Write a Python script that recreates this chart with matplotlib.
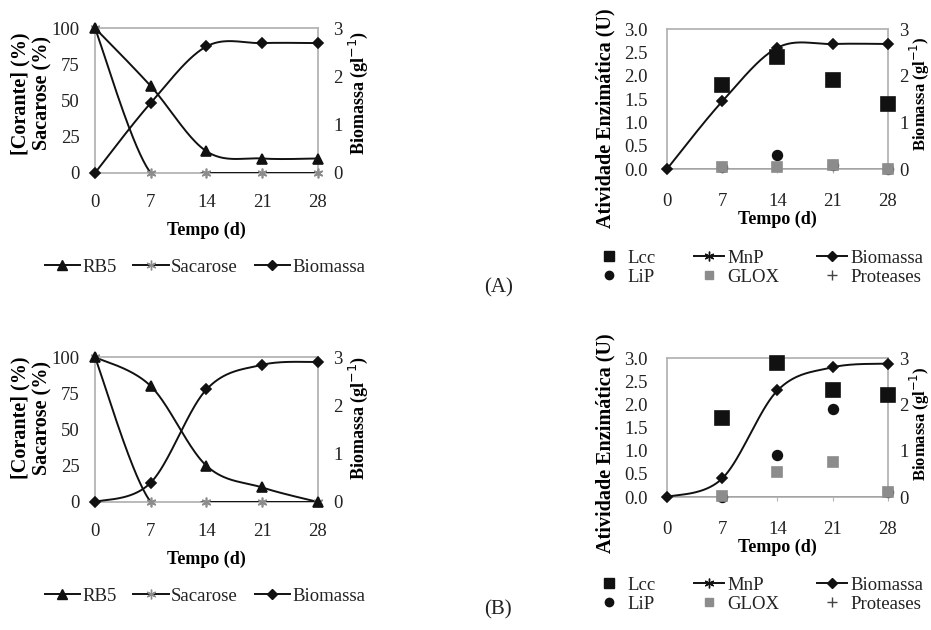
import numpy as np
import matplotlib
matplotlib.use("Agg")
import matplotlib.pyplot as plt
from matplotlib.lines import Line2D

plt.rcParams['font.family'] = ['Liberation Serif', 'DejaVu Serif']

# sampling days
days = [0, 7, 14, 21, 28]

# (A) dye / sucrose / biomass
rb5_a = [100, 60, 15, 10, 10]
sacarose_a = [100, 0, 0, 0, 0]
biomassa_a = [0, 1.45, 2.62, 2.69, 2.69]

# (A) enzymes (no reading on day 0)
lcc_a = [np.nan, 1.8, 2.4, 1.9, 1.4]
lip_a = [np.nan, 0.05, 0.3, 0.08, 0.0]
glox_a = [np.nan, 0.05, 0.05, 0.08, 0.0]
mnp_a = [0, 0, 0, 0, 0]
prot_a = [0, 0, 0, 0, 0]
biomassa_enz_a = [0, 1.45, 2.6, 2.68, 2.68]

# (B) dye / sucrose / biomass
rb5_b = [100, 80, 25, 10, 0]
sacarose_b = [100, 0, 0, 0, 0]
biomassa_b = [0, 0.4, 2.33, 2.84, 2.9]

# (B) enzymes
lcc_b = [np.nan, 1.7, 2.9, 2.3, 2.2]
lip_b = [np.nan, 0.0, 0.9, 1.9, 0.1]
glox_b = [np.nan, 0.02, 0.55, 0.75, 0.1]
mnp_b = [0, 0, 0, 0, 0]
prot_b = [0, 0, 0, 0, 0]
biomassa_enz_b = [0, 0.4, 2.3, 2.8, 2.88]

BLACK = '#111111'
GREY = '#8c8c8c'
SPINE = '#b4b4b4'
TXT = '#222222'
ASTER = (6, 2, 0)
FS = 13.5


def smooth(x, y, n=40):
    # Catmull-Rom path through the points (like Excel "smoothed line")
    x = np.asarray(x, float)
    y = np.asarray(y, float)
    px = np.concatenate([[x[0]], x, [x[-1]]])
    py = np.concatenate([[y[0]], y, [y[-1]]])
    t = np.linspace(0, 1, n)
    xs, ys = [], []
    for i in range(len(x) - 1):
        for arr, src in ((xs, px), (ys, py)):
            a, b, c, d = src[i:i + 4]
            arr.append(0.5 * (2 * b + (-a + c) * t + (2 * a - 5 * b + 4 * c - d) * t ** 2
                              + (-a + 3 * b - 3 * c + d) * t ** 3))
    return np.concatenate(xs), np.concatenate(ys)


def series(ax, y, marker, mcolor, ms, line=True, z=3):
    if line:
        sx, sy = smooth(days, y)
        ax.plot(sx, sy, color=BLACK, lw=1.4, zorder=z)
    ax.plot(days, y, linestyle='none', marker=marker, color=mcolor, mec=mcolor,
            ms=ms, mew=1.2, clip_on=False, zorder=z + 0.5)


def centre_label(axis, x, y):
    axis.set_label_coords(x, y)
    axis.label.set_horizontalalignment('center')
    axis.label.set_verticalalignment('center')


def style_axes(ax, left_label, label_xy, xpad):
    ax.set_xlim(0, 28)
    ax.set_xticks(days)
    for s in ax.spines.values():
        s.set_color(SPINE)
        s.set_linewidth(1.3)
    ax.tick_params(axis='x', length=3, color=SPINE, labelsize=FS, labelcolor=TXT, pad=xpad)
    ax.tick_params(axis='y', length=0, labelsize=FS, labelcolor=TXT)
    ax.set_xlabel('Tempo (d)', fontsize=13, fontweight='bold', labelpad=6)
    ax.set_ylabel(left_label, fontsize=14.5, fontweight='bold', linespacing=1.1)
    centre_label(ax.yaxis, *label_xy)


def right_axis(ax, xy, pad, size):
    tw = ax.twinx()
    tw.set_ylim(0, 3)
    tw.set_yticks([0, 1, 2, 3])
    for s in tw.spines.values():
        s.set_visible(False)
    tw.tick_params(axis='y', length=0, labelsize=FS, labelcolor=TXT, pad=pad)
    tw.set_ylabel('Biomassa (gl$^{-1}$)', fontsize=size, fontweight='bold')
    centre_label(tw.yaxis, *xy)
    return tw


def dye_panel(rect, rb5, sac, bio, label_y, leg_y):
    ax = fig.add_axes(rect)
    ax.set_ylim(0, 100)
    ax.set_yticks([0, 25, 50, 75, 100])
    ax.tick_params(axis='y', pad=11)
    style_axes(ax, '[Corante] (%)\nSacarose (%)', (-0.285, label_y), 12)
    ax.xaxis.labelpad = 8
    tw = right_axis(ax, (1.18, label_y), 11, 13)
    series(ax, sac, ASTER, GREY, 7)
    series(ax, rb5, '^', BLACK, 7)
    series(tw, bio, 'D', BLACK, 5.5)
    handles = [
        Line2D([], [], color=BLACK, lw=1.4, marker='^', ms=7, label='RB5'),
        Line2D([], [], color=BLACK, lw=1.4, marker=ASTER, mec=GREY, ms=7, label='Sacarose'),
        Line2D([], [], color=BLACK, lw=1.4, marker='D', ms=5.5, label='Biomassa'),
    ]
    fig.legend(handles=handles, loc='center', bbox_to_anchor=(0.220, leg_y), ncol=3,
               frameon=False, fontsize=FS, handlelength=1.9, handletextpad=0.1,
               columnspacing=0.9, labelcolor=TXT)


def enzyme_panel(rect, lcc, lip, glox, mnp, prot, bio, ly, ry, leg_y):
    ax = fig.add_axes(rect)
    ax.set_ylim(0, 3)
    ax.set_yticks([0, 0.5, 1.0, 1.5, 2.0, 2.5, 3.0])
    ax.set_yticklabels([f'{v:.1f}' for v in ax.get_yticks()])
    ax.tick_params(axis='y', pad=14)
    style_axes(ax, 'Atividade Enzimática (U)', (-0.28, ly), 14)
    ax.xaxis.labelpad = 1
    tw = right_axis(ax, (1.143, ry), 8, 12)
    # zero series drawn under the spine
    series(ax, mnp, ASTER, BLACK, 0, z=1)
    series(ax, prot, '+', BLACK, 0, line=False, z=1)
    series(ax, lip, 'o', BLACK, 7, line=False)
    series(ax, glox, 's', GREY, 7, line=False)
    series(ax, lcc, 's', BLACK, 9.5, line=False)
    series(tw, bio, 'D', BLACK, 5.5)
    handles = [
        Line2D([], [], ls='none', marker='s', color=BLACK, ms=7, label='Lcc'),
        Line2D([], [], ls='none', marker='o', color=BLACK, ms=6, label='LiP'),
        Line2D([], [], color=BLACK, lw=1.4, marker=ASTER, ms=7, label='MnP'),
        Line2D([], [], ls='none', marker='s', color=GREY, ms=5.5, label='GLOX'),
        Line2D([], [], color=BLACK, lw=1.4, marker='D', ms=5.5, label='Biomassa'),
        Line2D([], [], ls='none', marker='+', color='#444444', ms=7, label='Proteases'),
    ]
    fig.legend(handles=handles, loc='center', bbox_to_anchor=(0.815, leg_y), ncol=3,
               frameon=False, fontsize=FS, handlelength=1.6, handletextpad=0.2,
               columnspacing=2.0, labelspacing=0.1, labelcolor=TXT)


fig = plt.figure(figsize=(9.31, 6.3), dpi=100)

dye_panel([0.102, 0.7254, 0.2395, 0.230], rb5_a, sacarose_a, biomassa_a, 0.55, 0.576)
dye_panel([0.102, 0.2032, 0.2395, 0.230], rb5_b, sacarose_b, biomassa_b, 0.58, 0.054)
enzyme_panel([0.7164, 0.7317, 0.2374, 0.2222], lcc_a, lip_a, glox_a, mnp_a, prot_a,
             biomassa_enz_a, 0.36, 0.54, 0.575)
enzyme_panel([0.7164, 0.2111, 0.2374, 0.2206], lcc_b, lip_b, glox_b, mnp_b, prot_b,
             biomassa_enz_b, 0.39, 0.53, 0.056)

fig.text(0.535, 1 - 288 / 630, '(A)', fontsize=15, ha='center', va='center', color=TXT)
fig.text(0.535, 1 - 610 / 630, '(B)', fontsize=15, ha='center', va='center', color=TXT)

fig.savefig('out.png', dpi=100)
